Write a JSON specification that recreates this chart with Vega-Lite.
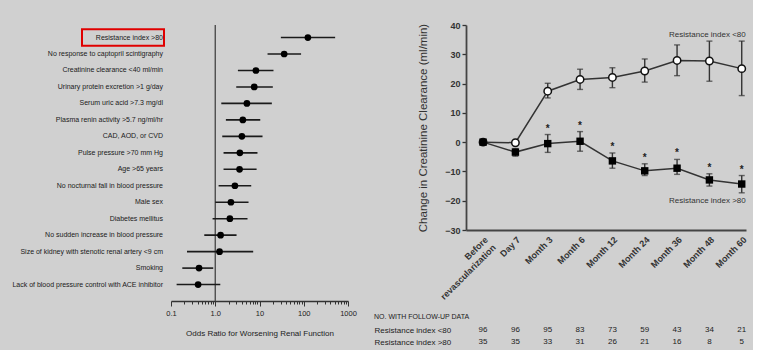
{
  "$schema": "https://vega.github.io/schema/vega-lite/v6.json",
  "background": "#d0d0d0",
  "padding": {"left": 12, "top": 21, "right": 4, "bottom": 2},
  "config": {
    "view": {"stroke": null},
    "font": "Liberation Sans",
    "axis": {"grid": false, "labelOverlap": false, "domainColor": "#333333", "tickColor": "#333333", "labelColor": "#222222", "titleColor": "#222222"}
  },
  "datasets": {
    "forest": [
      {"factor": "Resistance index >80", "or": 124, "lo": 30.4, "hi": 512, "highlight": true},
      {"factor": "No response to captopril scintigraphy", "or": 36.1, "lo": 15.2, "hi": 87, "highlight": false},
      {"factor": "Creatinine clearance <40 ml/min", "or": 8.3, "lo": 3.25, "hi": 20.7, "highlight": false},
      {"factor": "Urinary protein excretion >1 g/day", "or": 7.6, "lo": 2.98, "hi": 20.0, "highlight": false},
      {"factor": "Serum uric acid >7.3 mg/dl", "or": 5.19, "lo": 1.37, "hi": 19.0, "highlight": false},
      {"factor": "Plasma renin activity >5.7 ng/ml/hr", "or": 4.2, "lo": 1.74, "hi": 10.4, "highlight": false},
      {"factor": "CAD, AOD, or CVD", "or": 4.0, "lo": 1.44, "hi": 11.7, "highlight": false},
      {"factor": "Pulse pressure >70 mm Hg", "or": 3.6, "lo": 1.54, "hi": 9.0, "highlight": false},
      {"factor": "Age >65 years", "or": 3.54, "lo": 1.54, "hi": 8.6, "highlight": false},
      {"factor": "No nocturnal fall in blood pressure", "or": 2.78, "lo": 1.19, "hi": 6.5, "highlight": false},
      {"factor": "Male sex", "or": 2.26, "lo": 1.0, "hi": 5.65, "highlight": false},
      {"factor": "Diabetes mellitus", "or": 2.14, "lo": 0.87, "hi": 5.36, "highlight": false},
      {"factor": "No sudden increase in blood pressure", "or": 1.32, "lo": 0.565, "hi": 3.03, "highlight": false},
      {"factor": "Size of kidney with stenotic renal artery <9 cm", "or": 1.25, "lo": 0.23, "hi": 7.2, "highlight": false},
      {"factor": "Smoking", "or": 0.43, "lo": 0.18, "hi": 0.9, "highlight": false},
      {"factor": "Lack of blood pressure control with ACE inhibitor", "or": 0.41, "lo": 0.134, "hi": 1.3, "highlight": false}
    ],
    "cc": [
      {"time": "Before revascularization", "group": "<80", "value": 0, "lo": null, "hi": null, "star": false},
      {"time": "Day 7", "group": "<80", "value": -0.2, "lo": null, "hi": null, "star": false},
      {"time": "Month 3", "group": "<80", "value": 17.4, "lo": 15.1, "hi": 20.1, "star": false},
      {"time": "Month 6", "group": "<80", "value": 21.4, "lo": 18.0, "hi": 24.9, "star": false},
      {"time": "Month 12", "group": "<80", "value": 22.1, "lo": 18.6, "hi": 25.4, "star": false},
      {"time": "Month 24", "group": "<80", "value": 24.3, "lo": 20.5, "hi": 28.4, "star": false},
      {"time": "Month 36", "group": "<80", "value": 27.9, "lo": 22.7, "hi": 33.2, "star": false},
      {"time": "Month 48", "group": "<80", "value": 27.7, "lo": 20.8, "hi": 34.5, "star": false},
      {"time": "Month 60", "group": "<80", "value": 25.1, "lo": 15.9, "hi": 34.5, "star": false},
      {"time": "Before revascularization", "group": ">80", "value": 0, "lo": null, "hi": null, "star": false},
      {"time": "Day 7", "group": ">80", "value": -3.4, "lo": -4.8, "hi": -2.2, "star": false},
      {"time": "Month 3", "group": ">80", "value": -0.5, "lo": -3.5, "hi": 2.6, "star": true},
      {"time": "Month 6", "group": ">80", "value": 0.3, "lo": -3.1, "hi": 3.6, "star": true},
      {"time": "Month 12", "group": ">80", "value": -6.4, "lo": -8.9, "hi": -3.7, "star": true},
      {"time": "Month 24", "group": ">80", "value": -9.8, "lo": -11.4, "hi": -7.4, "star": true},
      {"time": "Month 36", "group": ">80", "value": -8.9, "lo": -11.0, "hi": -5.9, "star": true},
      {"time": "Month 48", "group": ">80", "value": -12.9, "lo": -15.0, "hi": -10.8, "star": true},
      {"time": "Month 60", "group": ">80", "value": -14.3, "lo": -17.3, "hi": -11.4, "star": true}
    ],
    "table": [
      {"time": "Before revascularization", "group": "Resistance index <80", "n": 96},
      {"time": "Day 7", "group": "Resistance index <80", "n": 96},
      {"time": "Month 3", "group": "Resistance index <80", "n": 95},
      {"time": "Month 6", "group": "Resistance index <80", "n": 83},
      {"time": "Month 12", "group": "Resistance index <80", "n": 73},
      {"time": "Month 24", "group": "Resistance index <80", "n": 59},
      {"time": "Month 36", "group": "Resistance index <80", "n": 43},
      {"time": "Month 48", "group": "Resistance index <80", "n": 34},
      {"time": "Month 60", "group": "Resistance index <80", "n": 21},
      {"time": "Before revascularization", "group": "Resistance index >80", "n": 35},
      {"time": "Day 7", "group": "Resistance index >80", "n": 35},
      {"time": "Month 3", "group": "Resistance index >80", "n": 33},
      {"time": "Month 6", "group": "Resistance index >80", "n": 31},
      {"time": "Month 12", "group": "Resistance index >80", "n": 26},
      {"time": "Month 24", "group": "Resistance index >80", "n": 21},
      {"time": "Month 36", "group": "Resistance index >80", "n": 16},
      {"time": "Month 48", "group": "Resistance index >80", "n": 8},
      {"time": "Month 60", "group": "Resistance index >80", "n": 5}
    ],
    "serieslabels": [
      {"time": "Month 60", "value": 36.5, "label": "Resistance index <80"},
      {"time": "Month 60", "value": -20.2, "label": "Resistance index >80"}
    ]
  },
  "spacing": 17,
  "hconcat": [
    {
      "spacing": 0,
      "hconcat": [
        {
          "width": 82,
          "height": 276,
          "data": {"name": "forest"},
          "encoding": {
            "y": {
              "field": "factor", "type": "nominal",
              "scale": {
                "domain": ["Resistance index >80", "No response to captopril scintigraphy", "Creatinine clearance <40 ml/min", "Urinary protein excretion >1 g/day", "Serum uric acid >7.3 mg/dl", "Plasma renin activity >5.7 ng/ml/hr", "CAD, AOD, or CVD", "Pulse pressure >70 mm Hg", "Age >65 years", "No nocturnal fall in blood pressure", "Male sex", "Diabetes mellitus", "No sudden increase in blood pressure", "Size of kidney with stenotic renal artery <9 cm", "Smoking", "Lack of blood pressure control with ACE inhibitor"],
                "paddingInner": 0, "paddingOuter": 0.38, "align": 0.345
              },
              "axis": null
            }
          },
          "layer": [
            {
              "transform": [{"filter": "datum.highlight"}],
              "mark": {"type": "rect", "fillOpacity": 0, "stroke": "#e00000", "strokeWidth": 2},
              "encoding": {}
            },
            {
              "mark": {"type": "text", "align": "right", "dx": 40, "font": "Liberation Sans", "fontSize": 7, "color": "#1a1a1a"},
              "encoding": {"text": {"field": "factor"}}
            }
          ]
        },
        {
          "width": 177,
          "height": 276,
          "layer": [
            {
              "data": {"values": [{"ref": 1}]},
              "mark": {"type": "rule", "color": "#444444", "strokeWidth": 1.3},
              "encoding": {"x": {"field": "ref", "type": "quantitative", "scale": {"type": "log", "domain": [0.1, 1000]}}}
            },
            {
              "data": {"name": "forest"},
              "encoding": {
                "y": {
                  "field": "factor", "type": "nominal",
                  "scale": {
                    "domain": ["Resistance index >80", "No response to captopril scintigraphy", "Creatinine clearance <40 ml/min", "Urinary protein excretion >1 g/day", "Serum uric acid >7.3 mg/dl", "Plasma renin activity >5.7 ng/ml/hr", "CAD, AOD, or CVD", "Pulse pressure >70 mm Hg", "Age >65 years", "No nocturnal fall in blood pressure", "Male sex", "Diabetes mellitus", "No sudden increase in blood pressure", "Size of kidney with stenotic renal artery <9 cm", "Smoking", "Lack of blood pressure control with ACE inhibitor"],
                    "paddingInner": 0, "paddingOuter": 0.38, "align": 0.345
                  },
                  "axis": null
                }
              },
              "layer": [
                {
                  "mark": {"type": "rule", "color": "#1a1a1a", "strokeWidth": 1.6},
                  "encoding": {
                    "x": {"field": "lo", "type": "quantitative", "scale": {"type": "log", "domain": [0.1, 1000]},
                      "axis": {
                        "values": [0.1, 0.2, 0.3, 0.4, 0.5, 0.6, 0.7, 0.8, 0.9, 1, 2, 3, 4, 5, 6, 7, 8, 9, 10, 20, 30, 40, 50, 60, 70, 80, 90, 100, 200, 300, 400, 500, 600, 700, 800, 900, 1000],
                        "tickCount": 50,
                        "labelExpr": "datum.value == 0.1 ? '0.1' : datum.value == 1 ? '1.0' : datum.value == 10 ? '10' : datum.value == 100 ? '100' : datum.value == 1000 ? '1000' : ''",
                        "tickSize": {"condition": {"test": "indexof([0.1, 1, 10, 100, 1000], datum.value) >= 0", "value": 5}, "value": 3},
                        "labelOverlap": false,
                        "labelFlush": false,
                        "labelFontSize": 7.5,
                        "labelPadding": 3,
                        "domainWidth": 1.3,
                        "title": "Odds Ratio for Worsening Renal Function",
                        "titleFontSize": 8,
                        "titleFontWeight": "normal",
                        "titlePadding": 13
                      }
                    },
                    "x2": {"field": "hi"}
                  }
                },
                {
                  "mark": {"type": "circle", "color": "#000000", "opacity": 1, "size": 45},
                  "encoding": {"x": {"field": "or", "type": "quantitative"}}
                }
              ]
            }
          ]
        }
      ]
    },
    {
      "spacing": 11,
      "vconcat": [
        {
          "width": 280,
          "height": 205,
          "data": {"name": "cc"},
          "encoding": {
            "x": {
              "field": "time", "type": "ordinal",
              "scale": {"type": "point", "domain": ["Before revascularization", "Day 7", "Month 3", "Month 6", "Month 12", "Month 24", "Month 36", "Month 48", "Month 60"], "padding": 0.33, "align": 0.8},
              "axis": {
                "title": null,
                "labelAngle": -45,
                "labelFontSize": 9,
                "labelFontWeight": "bold",
                "labelColor": "#333333",
                "ticks": false,
                "labelPadding": 5,
                "domainWidth": 1.8,
                "domainColor": "#444444",
                "labelExpr": "datum.value == 'Before revascularization' ? ['Before', 'revascularization'] : datum.value"
              }
            }
          },
          "layer": [
            {
              "mark": {"type": "line", "color": "#333333", "strokeWidth": 1.5},
              "encoding": {
                "y": {"field": "value", "type": "quantitative", "scale": {"domain": [-30, 40], "nice": false},
                  "axis": {
                    "values": [-30, -20, -10, 0, 10, 20, 30, 40],
                    "tickCount": 20,
                    "labelOverlap": false,
                    "tickSize": 4,
                    "tickWidth": 1.3,
                    "domainWidth": 1.8,
                    "domainColor": "#444444",
                    "labelFontSize": 9,
                    "labelFontWeight": "bold",
                    "labelColor": "#333333",
                    "labelPadding": 2,
                    "title": "Change in Creatinine Clearance (ml/min)",
                    "titleFontSize": 11.5,
                    "titleFontWeight": "normal",
                    "titleColor": "#333333",
                    "titlePadding": 16
                  }
                },
                "detail": {"field": "group"}
              }
            },
            {
              "transform": [{"filter": "datum.lo != null"}],
              "mark": {"type": "rule", "color": "#333333", "strokeWidth": 1.4},
              "encoding": {
                "y": {"field": "lo", "type": "quantitative"},
                "y2": {"field": "hi"}
              }
            },
            {
              "transform": [{"filter": "datum.lo != null"}],
              "mark": {"type": "tick", "color": "#333333", "size": 6, "thickness": 1.4},
              "encoding": {"y": {"field": "lo", "type": "quantitative"}}
            },
            {
              "transform": [{"filter": "datum.hi != null"}],
              "mark": {"type": "tick", "color": "#333333", "size": 6, "thickness": 1.4},
              "encoding": {"y": {"field": "hi", "type": "quantitative"}}
            },
            {
              "transform": [{"filter": "datum.group == '<80'"}],
              "mark": {"type": "point", "shape": "circle", "filled": true, "fill": "#ffffff", "stroke": "#111111", "strokeWidth": 1.5, "size": 55, "opacity": 1},
              "encoding": {"y": {"field": "value", "type": "quantitative"}}
            },
            {
              "transform": [{"filter": "datum.group == '>80'"}],
              "mark": {"type": "square", "color": "#000000", "size": 55, "opacity": 1},
              "encoding": {"y": {"field": "value", "type": "quantitative"}}
            },
            {
              "transform": [{"filter": "datum.star"}],
              "mark": {"type": "text", "text": "*", "fontSize": 10, "fontWeight": "bold", "dy": -6, "color": "#222222"},
              "encoding": {"y": {"field": "hi", "type": "quantitative"}}
            },
            {
              "data": {"name": "serieslabels"},
              "mark": {"type": "text", "align": "right", "dx": 4, "fontSize": 8, "color": "#333333"},
              "encoding": {"y": {"field": "value", "type": "quantitative"}, "text": {"field": "label"}}
            }
          ]
        },
        {
          "width": 280,
          "height": 24,
          "data": {"name": "table"},
          "title": {"text": "NO. WITH FOLLOW-UP DATA", "anchor": "start", "frame": "bounds", "fontSize": 7, "fontWeight": "normal", "offset": 4, "color": "#222222"},
          "mark": {"type": "text", "fontSize": 8, "color": "#222222"},
          "encoding": {
            "x": {
              "field": "time", "type": "ordinal",
              "scale": {"type": "point", "domain": ["Before revascularization", "Day 7", "Month 3", "Month 6", "Month 12", "Month 24", "Month 36", "Month 48", "Month 60"], "padding": 0.33, "align": 0.8},
              "axis": null
            },
            "y": {
              "field": "group", "type": "nominal",
              "scale": {"domain": ["Resistance index <80", "Resistance index >80"]},
              "axis": {"title": null, "domain": false, "ticks": false, "labelAlign": "left", "labelPadding": 92, "labelFontSize": 8, "labelColor": "#222222"}
            },
            "text": {"field": "n"}
          }
        }
      ]
    }
  ]
}
